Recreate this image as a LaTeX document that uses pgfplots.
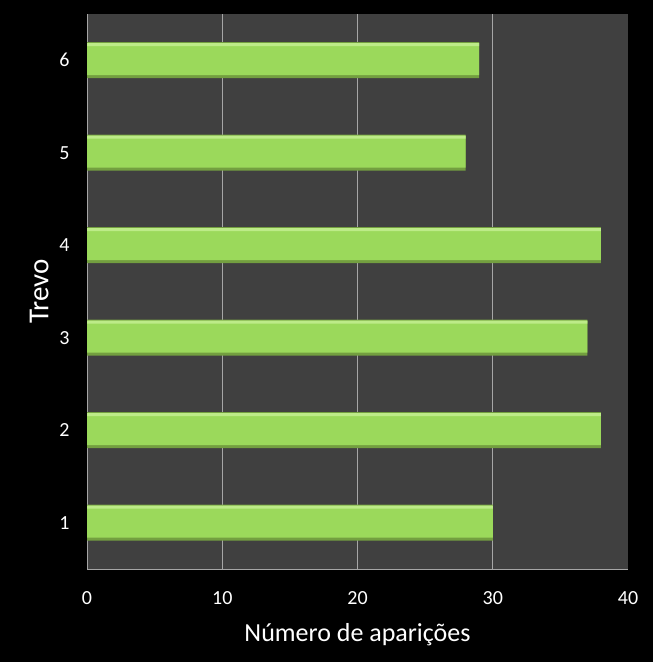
\documentclass[border=0pt]{standalone}
\usepackage{fontspec}
\setmainfont{Carlito}
\usepackage{pgfplots}
\pgfplotsset{compat=1.18}
\definecolor{plotbg}{HTML}{404040}
\definecolor{gridc}{HTML}{A6A6A6}
\definecolor{barmid}{HTML}{9BD95B}
\definecolor{bartop}{HTML}{BDEB88}
\definecolor{barbot}{HTML}{739F40}
\pgfplotstableread{
y  x
1  30
2  38
3  37
4  38
5  28
6  29
}\trevo
\begin{document}
\begin{tikzpicture}
  \fill[black] (0,0) rectangle (653bp,662bp);
  \useasboundingbox (0,0) rectangle (653bp,662bp);
  \begin{axis}[
      at={(87bp,93bp)}, anchor=south west,
      scale only axis,
      width=541bp, height=555bp,
      xbar,
      xmin=0, xmax=40,
      ymin=0.5, ymax=6.5,
      xtick={10,20,30},
      extra x ticks={0,40},
      extra x tick style={grid=none},
      ytick={1,...,6},
      axis background/.style={fill=plotbg},
      axis x line*=bottom, axis y line*=left,
      axis line style={gridc, line width=0.6pt},
      x axis line style={-}, y axis line style={-},
      major tick length=0pt,
      xmajorgrids, major grid style={gridc, line width=0.6pt},
      tick label style={white, font=\fontsize{20bp}{22bp}\selectfont},
      /pgf/number format/assume math mode=true,
      xticklabel style={yshift=-19bp},
      yticklabel style={xshift=-14bp},
      xlabel={Número de aparições},
      ylabel={Trevo},
      label style={white, font=\fontsize{26bp}{28bp}\selectfont},
      xlabel style={yshift=-12bp},
      ylabel style={yshift=4bp, font=\fontsize{29bp}{31bp}\selectfont},
    ]
    % bar body with darker lower edge and a light upper edge
    \addplot[draw=none, fill=barbot, bar width=36bp, bar shift=0bp] table[x=x, y=y] {\trevo};
    \addplot[draw=none, fill=barmid, bar width=32bp, bar shift=1bp] table[x=x, y=y] {\trevo};
    \addplot[draw=none, fill=bartop, bar width=3bp, bar shift=15.5bp] table[x=x, y=y] {\trevo};
  \end{axis}
\end{tikzpicture}
\end{document}
